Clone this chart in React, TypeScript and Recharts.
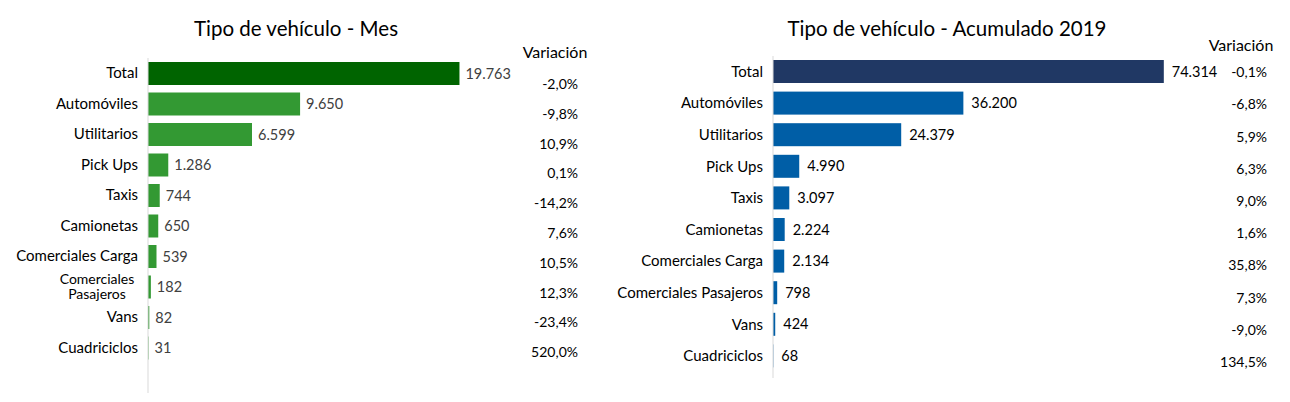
import { BarChart, Bar, XAxis, YAxis, LabelList } from "recharts";

const categories = [
  "Total",
  "Automóviles",
  "Utilitarios",
  "Pick Ups",
  "Taxis",
  "Camionetas",
  "Comerciales Carga",
  "Comerciales Pasajeros",
  "Vans",
  "Cuadriciclos",
];

const mesValues = [19763, 9650, 6599, 1286, 744, 650, 539, 182, 82, 31];
const mesVariacion = ["-2,0%", "-9,8%", "10,9%", "0,1%", "-14,2%", "7,6%", "10,5%", "12,3%", "-23,4%", "520,0%"];

const acumValues = [74314, 36200, 24379, 4990, 3097, 2224, 2134, 798, 424, 68];
const acumVariacion = ["-0,1%", "-6,8%", "5,9%", "6,3%", "9,0%", "1,6%", "35,8%", "7,3%", "-9,0%", "134,5%"];

const FONT = "Lato, 'Open Sans', sans-serif";

const fmt = (v: number) => String(v).replace(/\B(?=(\d{3})+(?!\d))/g, ".");

const mesData = categories.map((name, i) => ({ name, value: mesValues[i], variacion: mesVariacion[i] }));
const acumData = categories.map((name, i) => ({ name, value: acumValues[i], variacion: acumVariacion[i] }));

// category labels; the left panel wraps "Comerciales Pasajeros" on two centred lines
const CategoryTick = ({ x, y, payload, wrap }: any) => {
  const label: string = payload.value;
  if (wrap && label === "Comerciales Pasajeros") {
    const parts = label.split(" ");
    return (
      <g>
        <text x={x - 41} y={y - 3} textAnchor="middle" fontFamily={FONT} fontSize={14} fill="#000">
          {parts[0]}
        </text>
        <text x={x - 41} y={y + 12} textAnchor="middle" fontFamily={FONT} fontSize={14} fill="#000">
          {parts[1]}
        </text>
      </g>
    );
  }
  return (
    <text x={x} y={y} dy={5} textAnchor="end" fontFamily={FONT} fontSize={15} fill="#000">
      {label}
    </text>
  );
};

const VarTick = ({ x, y, payload, lookup, dx }: any) => (
  <text x={x + dx} y={y} dy={5} textAnchor="end" fontFamily={FONT} fontSize={14} fill="#000">
    {lookup[payload.value]}
  </text>
);

const mesLookup: Record<string, string> = Object.fromEntries(mesData.map((d) => [d.name, d.variacion]));
const acumLookup: Record<string, string> = Object.fromEntries(acumData.map((d) => [d.name, d.variacion]));

export default function App() {
  return (
    <div style={{ position: "absolute", left: 0, top: 0, width: 1290, height: 402, background: "#fff", fontFamily: FONT }}>
      <div style={{ position: "absolute", left: 96, width: 400, top: 16, textAlign: "center", fontSize: 20.5, color: "#000" }}>
        Tipo de vehículo - Mes
      </div>
      <div style={{ position: "absolute", left: 747, width: 400, top: 16, textAlign: "center", fontSize: 20.5, color: "#000" }}>
        Tipo de vehículo - Acumulado 2019
      </div>
      <div style={{ position: "absolute", left: 505, width: 100, top: 42, textAlign: "center", fontSize: 16, color: "#000" }}>
        Variación
      </div>
      <div style={{ position: "absolute", left: 1191, width: 100, top: 35, textAlign: "center", fontSize: 16, color: "#000" }}>
        Variación
      </div>

      <div style={{ position: "absolute", left: 0, top: 0 }}>
        <BarChart width={600} height={402} data={mesData} layout="vertical" margin={{ top: 58, right: 0, bottom: 9, left: 0 }}>
          <XAxis type="number" domain={[0, 25000]} hide />
          <YAxis
            yAxisId="cat"
            type="category"
            dataKey="name"
            width={148}
            padding={{ top: 0, bottom: 30 }}
            axisLine={{ stroke: "#d9d9d9" }}
            tickLine={false}
            tickMargin={4}
            interval={0}
            tick={<CategoryTick wrap />}
          />
          <YAxis
            yAxisId="var"
            orientation="right"
            type="category"
            dataKey="name"
            width={58}
            padding={{ top: 11, bottom: 26 }}
            axisLine={false}
            tickLine={false}
            interval={0}
            tick={<VarTick lookup={mesLookup} dx={28} />}
          />
          <Bar yAxisId="cat" dataKey="value" barSize={23} isAnimationActive={false}
            shape={(p: any) => (
              <rect x={p.x} y={p.y} width={p.width} height={p.height} fill={p.name === "Total" ? "#006400" : "#339933"} />
            )}>
            <LabelList dataKey="value" position="right" offset={6} formatter={(v: any) => fmt(v)}
              style={{ fontFamily: FONT, fontSize: 14.5, fill: "#404040" }} />
          </Bar>
        </BarChart>
      </div>

      <div style={{ position: "absolute", left: 600, top: 0 }}>
        <BarChart width={690} height={402} data={acumData} layout="vertical" margin={{ top: 56, right: 0, bottom: 24, left: 0 }}>
          <XAxis type="number" domain={[0, 85000]} hide />
          <YAxis
            yAxisId="cat"
            type="category"
            dataKey="name"
            width={173}
            padding={{ top: 0, bottom: 6 }}
            axisLine={{ stroke: "#d9d9d9" }}
            tickLine={false}
            tickMargin={4}
            interval={0}
            tick={<CategoryTick />}
          />
          <YAxis
            yAxisId="var"
            orientation="right"
            type="category"
            dataKey="name"
            width={70}
            padding={{ top: 0, bottom: 0 }}
            axisLine={false}
            tickLine={false}
            interval={0}
            tick={<VarTick lookup={acumLookup} dx={39} />}
          />
          <Bar yAxisId="cat" dataKey="value" barSize={23} isAnimationActive={false}
            shape={(p: any) => (
              <rect x={p.x} y={p.y} width={p.width} height={p.height} fill={p.name === "Total" ? "#203864" : "#005ea6"} />
            )}>
            <LabelList dataKey="value" position="right" offset={8} formatter={(v: any) => fmt(v)}
              style={{ fontFamily: FONT, fontSize: 14.5, fill: "#000" }} />
          </Bar>
        </BarChart>
      </div>
    </div>
  );
}
